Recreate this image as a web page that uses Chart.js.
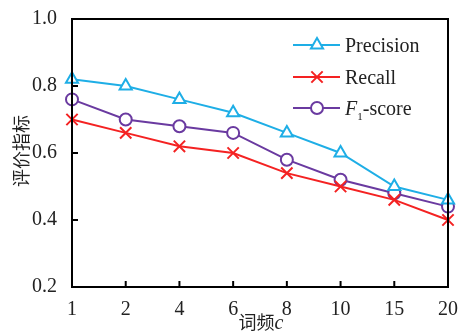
<!DOCTYPE html>
<html>
<head>
<meta charset="utf-8">
<script src="https://cdn.jsdelivr.net/npm/chart.js@4"></script>
<style>
  html, body { margin: 0; padding: 0; background: #fff; }
  #wrap { width: 461px; height: 334px; position: relative; }
  .lbl { position: absolute; color: #222; white-space: nowrap; line-height: 1; }
  .serif { font-family: "Liberation Serif", "DejaVu Serif", serif; font-size: 20px; }
  .cjk { font-family: "Noto Sans CJK SC", sans-serif; font-size: 18px; }
  #ytitle { left: 20px; top: 151px; transform: translate(-50%, -50%) rotate(-90deg); }
  #xtitle { left: 261px; top: 322px; transform: translate(-50%, -50%); }
</style>
</head>
<body>
<div id="wrap">
  <canvas id="chart"></canvas>
  <div id="ytitle" class="lbl cjk">评价指标</div>
  <div id="xtitle" class="lbl cjk">词频<i class="serif">c</i></div>
  <div id="legendText"></div>
</div>
<script>
// data
const categories = ['1', '2', '4', '6', '8', '10', '15', '20'];
const precision = [0.82, 0.80, 0.76, 0.72, 0.66, 0.60, 0.50, 0.46];
const recall = [0.70, 0.66, 0.62, 0.60, 0.54, 0.50, 0.46, 0.40];
const f1score = [0.76, 0.70, 0.68, 0.66, 0.58, 0.52, 0.48, 0.44];
const yTicks = [0.2, 0.4, 0.6, 0.8, 1.0];

const serif = '"Liberation Serif", "DejaVu Serif", serif';
const legendRows = [45, 77, 108];

// legend text as page text
const legendText = document.getElementById('legendText');
['Precision', 'Recall', '<i>F</i><sub style="font-size:11px">1</sub>-score'].forEach((t, i) => {
    const d = document.createElement('div');
    d.className = 'lbl serif';
    d.style.left = '345px';
    d.style.top = (legendRows[i] - 10) + 'px';
    d.innerHTML = t;
    legendText.appendChild(d);
});

// legend marker, same shapes as the dataset points
function marker(c, style, x, y, r) {
    c.beginPath();
    if (style === 'triangle') {
        c.moveTo(x, y - r);
        c.lineTo(x + r * 0.866, y + r * 0.5);
        c.lineTo(x - r * 0.866, y + r * 0.5);
        c.closePath();
        c.fill();
    } else if (style === 'circle') {
        c.arc(x, y, r, 0, Math.PI * 2);
        c.fill();
    } else {
        const d = r * 0.707;
        c.moveTo(x - d, y - d); c.lineTo(x + d, y + d);
        c.moveTo(x + d, y - d); c.lineTo(x - d, y + d);
    }
    c.stroke();
}

// box round the plot, inward ticks, legend lines
const decorPlugin = {
    id: 'chartDecor',
    afterDraw(chart) {
        const c = chart.ctx;
        const a = chart.chartArea;
        const xs = chart.scales.x;
        const ys = chart.scales.y;
        c.save();
        c.lineWidth = 2;
        c.strokeStyle = 'black';
        c.beginPath(); c.moveTo(a.left, a.top); c.lineTo(a.right, a.top); c.stroke();
        c.beginPath(); c.moveTo(a.left, a.bottom); c.lineTo(a.right, a.bottom); c.stroke();
        c.beginPath(); c.moveTo(a.left, a.top - 1); c.lineTo(a.left, a.bottom + 1); c.stroke();
        c.beginPath(); c.moveTo(a.right, a.top - 1); c.lineTo(a.right, a.bottom + 1); c.stroke();
        for (let i = 0; i < xs.ticks.length; i++) {
            const px = xs.getPixelForTick(i);
            c.beginPath(); c.moveTo(px, a.bottom); c.lineTo(px, a.bottom - 6); c.stroke();
        }
        for (let i = 0; i < ys.ticks.length; i++) {
            const py = ys.getPixelForTick(i);
            c.beginPath(); c.moveTo(a.left, py); c.lineTo(a.left + 6, py); c.stroke();
        }

        chart.data.datasets.forEach((ds, i) => {
            const y = legendRows[i];
            c.strokeStyle = ds.borderColor;
            c.beginPath();
            c.moveTo(293, y);
            c.lineTo(340, y);
            c.stroke();
            c.fillStyle = 'white';
            marker(c, ds.pointStyle, 317, y, ds.pointRadius);
        });
        c.restore();
    }
};

function series(label, data, color, style, r) {
    return {
        label: label,
        data: data,
        borderColor: color,
        backgroundColor: color,
        pointStyle: style,
        pointRadius: r,
        pointBorderWidth: 2,
        pointBackgroundColor: '#ffffff',
        borderWidth: 2,
        tension: 0
    };
}

const chart = new Chart(document.getElementById('chart'), {
    type: 'line',
    data: {
        labels: categories,
        datasets: [
            series('Precision', precision, '#1eaee6', 'triangle', 7),
            series('Recall', recall, '#f42222', 'crossRot', 8),
            series('F1-score', f1score, '#6a3aa0', 'circle', 6)
        ]
    },
    options: {
        responsive: true,
        maintainAspectRatio: false,
        animation: false,
        layout: { padding: { top: 15, right: 12, left: 0, bottom: 0 } },
        plugins: {
            legend: { display: false },
            tooltip: { enabled: false }
        },
        scales: {
            x: {
                offset: false,
                grid: { display: false },
                border: { display: false },
                ticks: {
                    color: '#222',
                    maxRotation: 0,
                    font: { family: serif, size: 20 }
                },
                afterFit(s) { s.height = 47; }
            },
            y: {
                min: 0.2,
                max: 1.0,
                grid: { display: false },
                border: { display: false },
                afterBuildTicks(s) {
                    s.ticks = yTicks.map(v => ({ value: v }));
                },
                ticks: {
                    color: '#222',
                    padding: 7,
                    font: { family: serif, size: 20 },
                    callback: v => v.toFixed(1)
                },
                afterFit(s) { s.width = 72; }
            }
        }
    },
    plugins: [decorPlugin]
});
</script>
</body>
</html>
